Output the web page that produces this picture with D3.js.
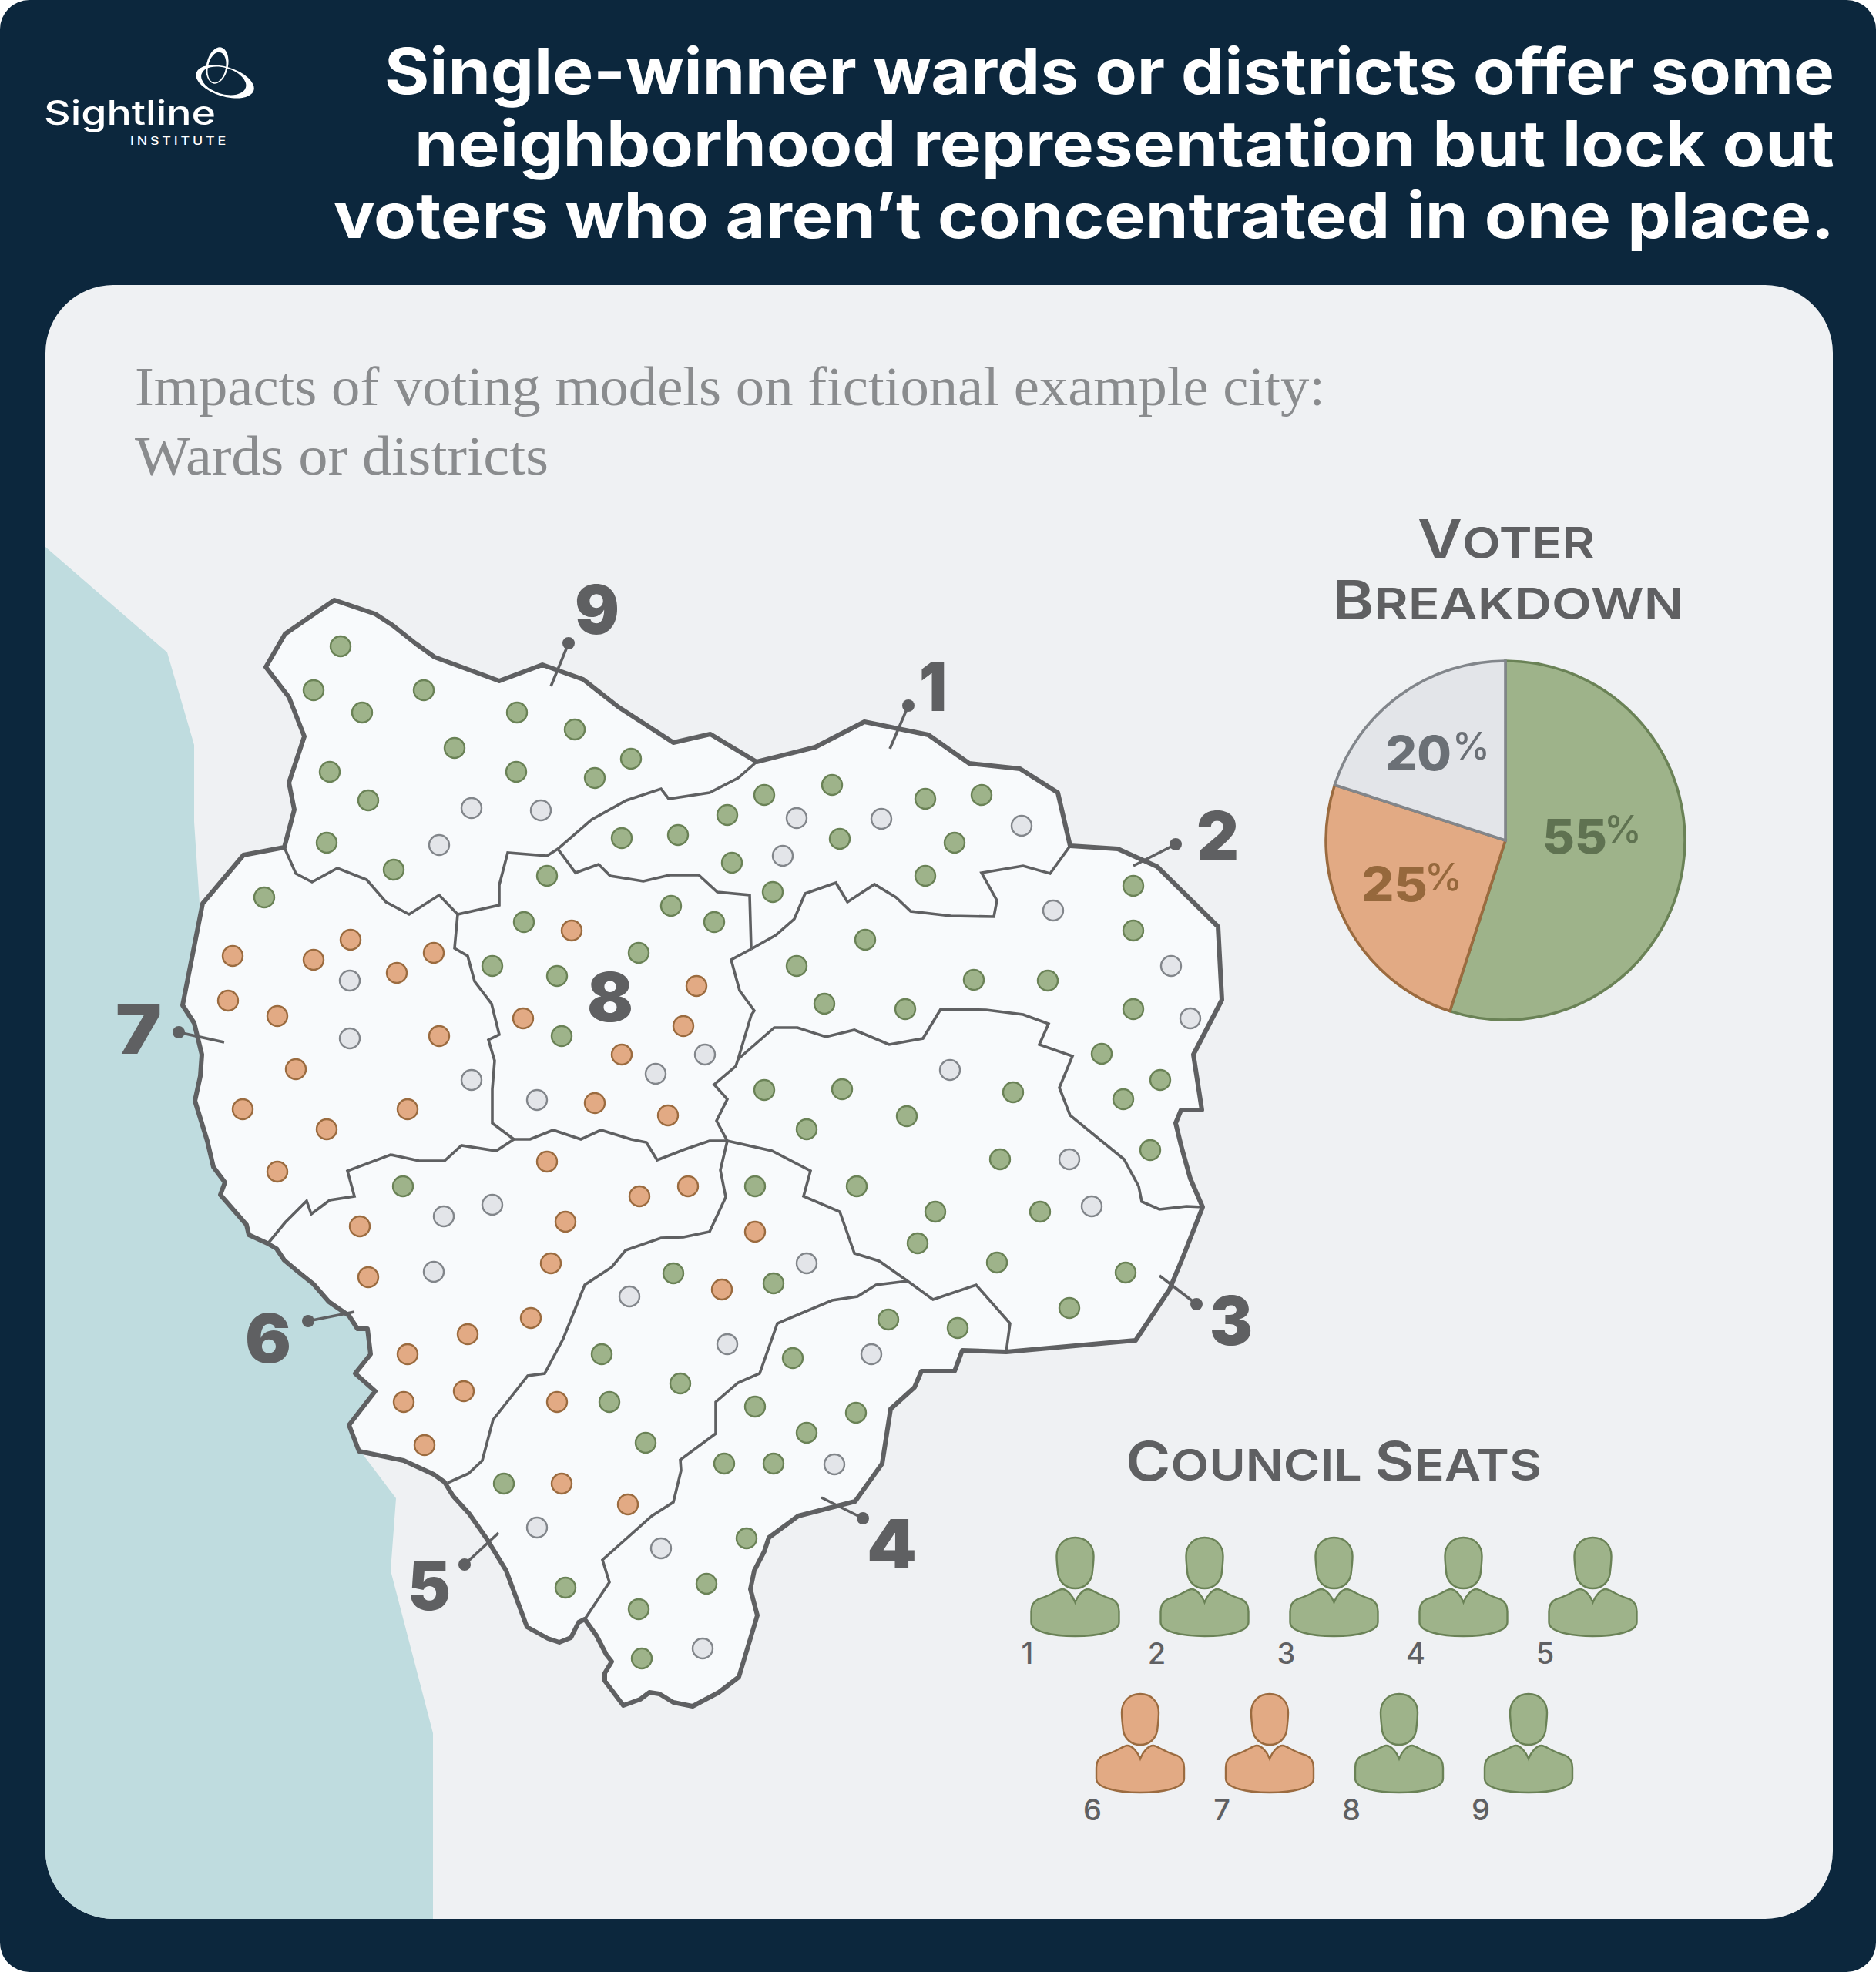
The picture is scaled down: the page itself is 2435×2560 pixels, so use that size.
<!DOCTYPE html>
<html>
<head>
<meta charset="utf-8">
<script src="https://cdn.jsdelivr.net/npm/d3@7"></script>
<style>
  html, body { margin: 0; padding: 0; background: #fff; }
  svg { display: block; }
</style>
</head>
<body>
<div id="chart"></div>
<script>
// ############### data: map coordinates are in map units (one unit = one px of the 2435 wide sheet) ###############
const titleLines = [
    "Single-winner wards or districts offer some",
    "neighborhood representation but lock out",
    "voters who aren\u2019t concentrated in one place."
];
const subtitleLines = ["Impacts of voting models on fictional example city:", "Wards or districts"];

const pieValues = [55, 25, 20];

const seatNumbers = [1, 2, 3, 4, 5, 6, 7, 8, 9];
const seatParties = ["green", "green", "green", "green", "green", "orange", "orange", "green", "green"];

// the sea runs on under the land, the land is painted over it
const seaEdge = [[59, 710], [217, 847], [252, 967], [252, 1067], [259, 1173], [400, 1300], [500, 1600], [520, 1800],
    [468, 1884], [514, 1945], [507, 2039], [562, 2250], [562, 2491], [59, 2491]];

const outerBoundary = [[434, 779], [487, 797], [510, 812], [539, 835], [564, 853], [648, 884], [704, 863], [757, 882], [803, 918],
    [874, 964], [922, 953], [982, 989], [1058, 970], [1122, 937], [1205, 954], [1258, 991], [1324, 998], [1373, 1029], [1389, 1098],
    [1451, 1102], [1502, 1125], [1581, 1203], [1586, 1298], [1549, 1369], [1560, 1441], [1533, 1441], [1526, 1458], [1533, 1487],
    [1545, 1530], [1561, 1567], [1535, 1633], [1518, 1674], [1474, 1740], [1306, 1755], [1249, 1753], [1239, 1780], [1196, 1780],
    [1187, 1801], [1156, 1829], [1145, 1900], [1110, 1949], [1036, 1968], [998, 1996], [992, 2014], [979, 2039], [974, 2063], [983, 2097],
    [959, 2177], [933, 2197], [899, 2215], [874, 2210], [856, 2199], [843, 2197], [831, 2206], [809, 2214], [785, 2182], [785, 2172],
    [794, 2157], [787, 2148], [774, 2123], [759, 2102], [751, 2106], [741, 2126], [726, 2132], [711, 2127], [684, 2112], [657, 2039],
    [632, 1998], [609, 1965], [588, 1942], [577, 1924], [563, 1914], [524, 1896], [466, 1884], [453, 1850], [487, 1806], [461, 1783],
    [481, 1758], [477, 1725], [464, 1725], [453, 1708], [427, 1690], [407, 1667], [387, 1651], [369, 1636], [359, 1621], [347, 1614],
    [323, 1603], [320, 1590], [286, 1551], [292, 1535], [277, 1515], [269, 1481], [253, 1429], [260, 1397], [262, 1369], [252, 1328],
    [237, 1305], [263, 1173], [316, 1110], [369, 1100], [382, 1051], [375, 1016], [395, 956], [375, 905], [345, 866], [370, 823]];

const border9 = [[982, 989], [958, 1010], [921, 1029], [868, 1037], [858, 1024], [813, 1039], [768, 1064], [724, 1102], [710, 1111],
    [659, 1107], [648, 1149], [648, 1175], [594, 1187], [570, 1162], [531, 1187], [501, 1171], [476, 1142], [438, 1127], [405, 1145],
    [384, 1134], [369, 1100]];
const border78 = [[594, 1187], [590, 1231], [607, 1241], [616, 1274], [638, 1303], [648, 1343], [634, 1350], [642, 1377], [639, 1414],
    [639, 1458], [667, 1479]];
const border8South = [[667, 1479], [688, 1479], [718, 1467], [754, 1479], [780, 1467], [819, 1479], [839, 1483], [853, 1506], [889, 1492],
    [921, 1481], [944, 1481]];
const border67 = [[667, 1479], [644, 1494], [599, 1487], [577, 1507], [544, 1507], [507, 1499], [451, 1520], [460, 1553], [428, 1558],
    [404, 1576], [398, 1559], [370, 1587], [348, 1614]];
const border81 = [[724, 1102], [747, 1133], [777, 1122], [792, 1137], [835, 1144], [869, 1136], [907, 1136], [931, 1158], [973, 1162],
    [975, 1232]];
const border8East = [[975, 1232], [949, 1246], [960, 1286], [979, 1312], [975, 1318], [958, 1375], [955, 1384], [927, 1408], [944, 1427],
    [930, 1455], [944, 1481]];
const border12 = [[975, 1232], [1007, 1214], [1031, 1193], [1045, 1160], [1085, 1146], [1100, 1171], [1135, 1148], [1163, 1165], [1182, 1183],
    [1234, 1189], [1290, 1190], [1294, 1169], [1274, 1133], [1328, 1124], [1363, 1134], [1389, 1098]];
const border23 = [[958, 1375], [1005, 1334], [1035, 1334], [1072, 1346], [1109, 1337], [1154, 1356], [1198, 1348], [1221, 1310], [1280, 1311],
    [1328, 1317], [1361, 1329], [1349, 1356], [1392, 1371], [1375, 1412], [1389, 1448], [1459, 1505], [1478, 1540], [1482, 1560],
    [1505, 1570], [1540, 1566], [1561, 1567]];
const border35 = [[944, 1481], [1002, 1494], [1052, 1520], [1043, 1553], [1090, 1573], [1109, 1627], [1141, 1637], [1178, 1663], [1211, 1687],
    [1267, 1668], [1311, 1718], [1306, 1755]];
const border45 = [[1178, 1663], [1137, 1668], [1113, 1683], [1080, 1688], [1009, 1718], [986, 1783], [958, 1795], [929, 1820], [929, 1861],
    [883, 1895], [884, 1909], [874, 1950], [846, 1968], [782, 2025], [791, 2054], [759, 2102]];
const border56 = [[944, 1481], [935, 1519], [942, 1554], [921, 1599], [887, 1606], [858, 1607], [812, 1623], [794, 1645], [759, 1668], [731, 1738],
    [707, 1783], [685, 1786], [640, 1843], [626, 1896], [608, 1913], [581, 1925]];
const wardBorders = [border9, border78, border8South, border67, border81, border8East, border12, border23, border35, border45, border56];

const greenVoters = [[442, 839], [407, 896], [470, 925], [550, 896], [671, 925], [746, 947], [590, 971], [819, 985], [670, 1002], [772, 1010],
    [428, 1002], [478, 1039], [424, 1094], [511, 1129],
    [944, 1058], [992, 1032], [1080, 1019], [1201, 1037], [1274, 1032], [1090, 1089], [1239, 1094], [950, 1120], [1003, 1158], [1201, 1137],
    [807, 1088], [880, 1084],
    [710, 1137], [680, 1197], [871, 1176], [927, 1197], [639, 1254], [723, 1267], [829, 1237], [729, 1345],
    [343, 1165],
    [1123, 1220], [1034, 1254], [1070, 1303], [1175, 1310], [1264, 1272], [1360, 1273], [1471, 1150], [1471, 1208], [1471, 1310], [1430, 1368],
    [1506, 1402], [1458, 1427], [1493, 1493],
    [992, 1415], [1093, 1414], [1047, 1466], [1177, 1449], [1315, 1418], [1298, 1505], [1112, 1540], [1214, 1573], [1350, 1573], [1191, 1614],
    [1294, 1639], [1461, 1652], [1388, 1698],
    [980, 1540], [1004, 1666], [874, 1653], [781, 1758], [883, 1796], [791, 1820], [838, 1873], [654, 1926], [734, 2061],
    [523, 1540],
    [1029, 1763], [980, 1826], [1047, 1860], [940, 1900], [1004, 1900], [969, 1997], [917, 2056], [829, 2089], [833, 2153], [1153, 1713],
    [1243, 1724], [1111, 1834]];
const orangeVoters = [[742, 1208], [904, 1280], [679, 1322], [887, 1332], [807, 1369], [772, 1432], [867, 1448],
    [302, 1241], [407, 1246], [455, 1220], [515, 1263], [563, 1237], [296, 1299], [360, 1319], [570, 1345], [384, 1388], [315, 1440], [529, 1440],
    [424, 1466], [360, 1521],
    [980, 1599], [937, 1674], [723, 1820], [729, 1926], [815, 1953],
    [710, 1508], [893, 1540], [830, 1553], [734, 1586], [467, 1592], [478, 1658], [715, 1640], [689, 1711], [607, 1732], [529, 1758], [602, 1806],
    [524, 1820], [551, 1876]];
const greyVoters = [[612, 1049], [702, 1052], [570, 1097],
    [1034, 1062], [1144, 1063], [1326, 1072], [1016, 1111],
    [915, 1369], [851, 1394], [697, 1428],
    [454, 1273], [454, 1348], [612, 1402],
    [1367, 1182], [1520, 1254], [1545, 1322],
    [1233, 1389], [1388, 1505], [1417, 1566],
    [1047, 1640], [817, 1683], [944, 1745], [697, 1983],
    [576, 1579], [639, 1564], [563, 1651],
    [1131, 1758], [1083, 1901], [858, 2010], [912, 2140]];

const wardNames = ["1", "2", "3", "4", "5", "6", "7", "8", "9"];
const wardPins = [[1179, 916], [1526, 1096], [1553, 1693], [1120, 1971], [603, 2031], [400, 1715], [232, 1340], null, [738, 835]];
const wardPinEnds = [[1155, 972], [1471, 1124], [1505, 1656], [1066, 1944], [647, 1990], [460, 1703], [291, 1353], null, [715, 891]];

// ############### layout ###############
const width = 2435, height = 2560;
const ink = "#5f6062";
const palette = {
    green: { fill: "#9eb38a", stroke: "#6a8256", text: "#5f7251" },
    orange: { fill: "#e2aa84", stroke: "#9b6b3f", text: "#96683c" },
    grey: { fill: "#e3e5e9", stroke: "#82868b", text: "#6b7076" }
};
const heading = "Inter, 'Open Sans', sans-serif";

const svg = d3.select("#chart").append("svg").attr("width", width).attr("height", height);

const xMap = d3.scaleLinear().domain([0, 2435]).range([0, width]);
const yMap = d3.scaleLinear().domain([0, 2560]).range([0, height]);
const mapLine = d3.line().x(d => xMap(d[0])).y(d => yMap(d[1]));

// text stretched to the measured extent of the original lettering
function fitText(parent, str, x0, x1, y, size, weight, family, fill) {
    return parent.append("text")
        .attr("x", x0).attr("y", y)
        .attr("textLength", x1 - x0).attr("lengthAdjust", "spacingAndGlyphs")
        .style("font-family", family).style("font-size", size + "px")
        .style("font-weight", weight).attr("fill", fill)
        .text(str);
}

// fake small caps: first letters large, the rest smaller
function capsText(parent, parts, x0, x1, y) {
    const t = parent.append("text")
        .attr("x", x0).attr("y", y)
        .attr("textLength", x1 - x0).attr("lengthAdjust", "spacingAndGlyphs")
        .style("font-family", heading).style("font-weight", 600).attr("fill", ink);
    parts.forEach(p => t.append("tspan").style("font-size", p[1] + "px").text(p[0]));
}

// ring with uneven thickness for the logo
function ringPath(cx, cy, rx, ry, dx, dy, irx, iry) {
    const e = (x, y, a, b) => `M${x - a},${y}a${a},${b} 0 1,0 ${2 * a},0a${a},${b} 0 1,0 ${-2 * a},0Z`;
    return e(cx, cy, rx, ry) + e(cx + dx, cy + dy, irx, iry);
}

// ############### frame ###############
svg.append("rect").attr("width", width).attr("height", height).attr("rx", 38).attr("fill", "#0c273d");
svg.append("rect").attr("x", 59).attr("y", 370).attr("width", 2320).attr("height", 2121).attr("rx", 88).attr("fill", "#eff1f3");
svg.append("clipPath").attr("id", "card").append("rect")
    .attr("x", 59).attr("y", 370).attr("width", 2320).attr("height", 2121).attr("rx", 88);

// ############### logo ###############
const logo = svg.append("g");
logo.append("path").attr("fill", "#fff").attr("fill-rule", "evenodd")
    .attr("transform", "rotate(12 282 85)")
    .attr("d", ringPath(282, 85, 14, 24, 0, 2.5, 11.5, 20));
logo.append("path").attr("fill", "#fff").attr("fill-rule", "evenodd")
    .attr("transform", "rotate(17 292 106)")
    .attr("d", ringPath(292, 106, 39, 19, -2, -0.5, 30, 17));
fitText(logo, "Sightline", 57, 280, 162, 44, 500, heading, "#fff");
fitText(logo, "INSTITUTE", 169, 297, 188, 14, 500, heading, "#fff").style("letter-spacing", "3px");

// ############### titles ###############
const titleStart = [499, 538, 433];
const titleBase = [122, 216, 309];
titleLines.forEach((line, i) => fitText(svg, line, titleStart[i], 2381, titleBase[i], 82, 700, heading, "#fff"));

const subtitleEnd = [1720, 712];
const subtitleBase = [526, 616];
subtitleLines.forEach((line, i) =>
    fitText(svg, line, 175, subtitleEnd[i], subtitleBase[i], 72, 400, "'Liberation Serif', serif", "#8a8c8e"));

// ############### map ###############
svg.append("path").datum(seaEdge).attr("clip-path", "url(#card)").attr("fill", "#bfdcdf")
    .attr("d", d => mapLine(d) + "Z");

svg.append("path").datum(outerBoundary).attr("fill", "#f8fafc").attr("stroke", ink)
    .attr("stroke-width", 6).attr("stroke-linejoin", "round")
    .attr("d", d => mapLine(d) + "Z");

svg.selectAll(".ward-border").data(wardBorders).join("path")
    .attr("class", "ward-border").attr("fill", "none").attr("stroke", ink)
    .attr("stroke-width", 3.6).attr("stroke-linejoin", "miter")
    .attr("d", mapLine);

[["green", greenVoters], ["orange", orangeVoters], ["grey", greyVoters]].forEach(([party, voters]) => {
    svg.selectAll(".voter-" + party).data(voters).join("circle")
        .attr("class", "voter-" + party)
        .attr("cx", d => xMap(d[0])).attr("cy", d => yMap(d[1])).attr("r", 13)
        .attr("fill", palette[party].fill).attr("stroke", palette[party].stroke).attr("stroke-width", 2.4);
});

// ward numbers and pins
const wardTextX = [[1193, 1229], [1553, 1608], [1570, 1626], [1125, 1190], [529, 585], [318, 378], [150, 210], [762, 822], [746, 804]];
const wardTextY = [923, 1117, 1746, 2036, 2090, 1769, 1368, 1326, 823];
wardNames.forEach((name, i) => {
    if (wardPins[i]) {
        svg.append("line")
            .attr("x1", xMap(wardPins[i][0])).attr("y1", yMap(wardPins[i][1]))
            .attr("x2", xMap(wardPinEnds[i][0])).attr("y2", yMap(wardPinEnds[i][1]))
            .attr("stroke", ink).attr("stroke-width", 3.6);
        svg.append("circle").attr("cx", xMap(wardPins[i][0])).attr("cy", yMap(wardPins[i][1])).attr("r", 8).attr("fill", ink);
    }
    fitText(svg, name, wardTextX[i][0], wardTextX[i][1], wardTextY[i], 88, 900, heading, ink);
});

// ############### pie ###############
capsText(svg, [["V", 70], ["OTER", 57]], 1840, 2070, 725);
capsText(svg, [["B", 70], ["REAKDOWN", 57]], 1729, 2185, 804);

const pieColours = ["green", "orange", "grey"];
const pie = d3.pie().sort(null).value(d => d);
const arc = d3.arc().innerRadius(0).outerRadius(233);
const pieG = svg.append("g").attr("transform", "translate(1954,1091)");
pieG.selectAll("path").data(pie(pieValues)).join("path")
    .attr("fill", (d, i) => palette[pieColours[i]].fill)
    .attr("stroke", (d, i) => palette[pieColours[i]].stroke)
    .attr("stroke-width", 3.6)
    .attr("d", arc);

const pieNumX = [[2002, 2086], [1767, 1853], [1798, 1884]];
const pieNumY = [1108, 1170, 1000];
const piePctX = [[2082, 2131], [1849, 1898], [1885, 1934]];
pieValues.forEach((v, i) => {
    const col = palette[pieColours[i]].text;
    fitText(svg, String(v), pieNumX[i][0], pieNumX[i][1], pieNumY[i], 62, 800, heading, col);
    fitText(svg, "%", piePctX[i][0], piePctX[i][1], pieNumY[i] - 14, 50, 500, heading, col);
});

// ############### council seats ###############
capsText(svg, [["C", 70], ["OUNCIL ", 57], ["S", 70], ["EATS", 57]], 1461, 2001, 1922);

const headShape = "M0,0C14,0 24,10 24,24C24,32 23,40 22,48C20,58 12,66 0,66C-12,66 -20,58 -22,48C-23,40 -24,32 -24,24C-24,10 -14,0 0,0Z";
const bodyShape = "M0,84C-3,76 -10,67 -17,67C-22,67 -30,75 -48,80C-54,83 -57,88 -57,96L-57,110C-57,122 -30,128 0,128C30,128 57,122 57,110L57,96C57,88 54,83 48,80C30,75 22,67 17,67C10,67 3,76 0,84Z";

const seatX = d3.scaleLinear().domain([0, 1]).range([0, 168]);
const rowStart = [1395.5, 1480];
const rowTop = [1996, 2199];
const rowOf = i => (i < 5 ? 0 : 1);
const colOf = i => (i < 5 ? i : i - 5);

const seats = svg.selectAll(".seat").data(seatNumbers).join("g")
    .attr("class", "seat")
    .attr("transform", (d, i) => `translate(${rowStart[rowOf(i)] + seatX(colOf(i))},${rowTop[rowOf(i)]})`);
seats.selectAll("path").data((d, i) => [[headShape, seatParties[i]], [bodyShape, seatParties[i]]]).join("path")
    .attr("d", d => d[0])
    .attr("fill", d => palette[d[1]].fill).attr("stroke", d => palette[d[1]].stroke).attr("stroke-width", 2.4);
seats.append("text")
    .attr("x", -62).attr("y", 164).attr("text-anchor", "middle")
    .style("font-family", heading).style("font-size", "38px").style("font-weight", 500)
    .attr("fill", ink).text(d => d);
</script>
</body>
</html>
